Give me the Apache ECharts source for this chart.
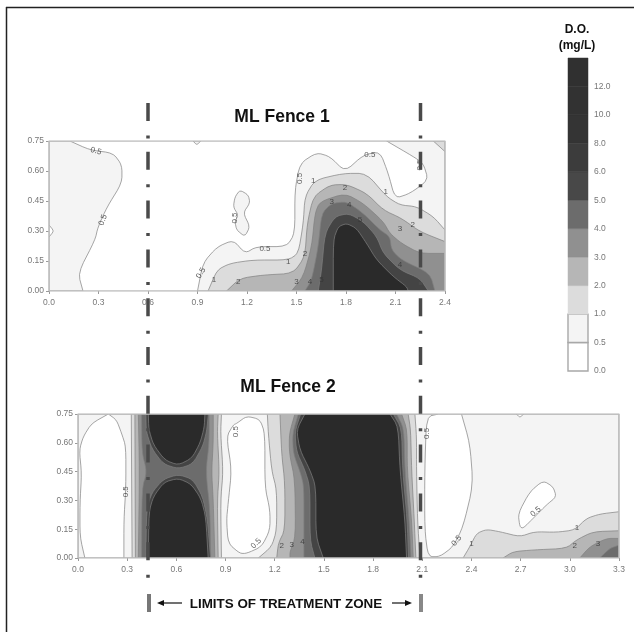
<!DOCTYPE html>
<html><head><meta charset="utf-8">
<style>html,body{margin:0;padding:0;background:#fff}#c{width:634px;height:632px;filter:blur(.55px)}</style>
<script src="https://cdn.jsdelivr.net/npm/echarts@6/dist/echarts.min.js"></script>
</head><body><div id="c"></div>
<script>
// ---------- tick labels / extents ----------
const yTicks = [0.00, 0.15, 0.30, 0.45, 0.60, 0.75];
const fence1XMax = 2.4;
const fence2XMax = 3.3;
const depthMax = 0.75;

// ---------- colour key ----------
const bandLabels = ['0.0','0.5','1.0','2.0','3.0','4.0','5.0','6.0','8.0','10.0','12.0',''];
const bandColors = ['#ffffff','#f4f4f4','#dcdcdc','#b6b6b6','#909090','#6c6c6c','#484848','#3c3c3c','#343434','#323232','#303030'];
const levelColor = {0:'#ffffff',0.5:'#f4f4f4',1:'#dcdcdc',2:'#b6b6b6',3:'#909090',4:'#6c6c6c',5:'#444444',6:'#2a2a2a'};

// ---------- Fence 1 contours, [distance, depth-value] ----------
const f1Left05 = [[0,.75],[.127,.75],[.248,.705],[.388,.69],[.442,.63],[.442,.54],[.352,.42],[.297,.32],[.279,.255],[.176,.09],[.206,0],[0,0]];
const f1LeftPocket = [[0,.33],[.03,.30],[0,.27]];
const f1TopNick = [[.873,.75],[.895,.73],[.92,.75]];
const f1Loop = [[1.127,.47],[1.157,.505],[1.208,.48],[1.218,.44],[1.177,.39],[1.218,.322],[1.187,.272],[1.137,.305],[1.127,.347],[1.147,.38],[1.117,.42]];
const f1L05 = [[.90,0],[.933,.14],[1.018,.22],[1.117,.255],[1.188,.188],[1.258,.222],[1.44,.222],[1.49,.288],[1.49,.505],[1.521,.638],[1.622,.692],[1.703,.672],[1.794,.597],[1.905,.68],[2.006,.697],[2.056,.588],[2.097,.463],[2.188,.488],[2.299,.555],[2.268,.638],[2.208,.672],[2.046,.75],[2.4,.75],[2.4,0]];
const f1Corner = [[2.329,.75],[2.4,.697],[2.4,.75]];
const f1L1 = [[.964,0],[1.018,.105],[1.097,.138],[1.238,.155],[1.45,.155],[1.511,.188],[1.541,.338],[1.551,.472],[1.612,.555],[1.783,.588],[1.925,.588],[2.046,.472],[2.127,.43],[2.228,.422],[2.329,.372],[2.4,.305],[2.4,0]];
const f1L2 = [[1.076,0],[1.157,.063],[1.299,.08],[1.48,.088],[1.551,.172],[1.565,.338],[1.602,.472],[1.703,.53],[1.804,.533],[1.925,.488],[2.026,.405],[2.137,.363],[2.248,.297],[2.4,.247],[2.4,0]];
const f1L3 = [[1.47,0],[1.541,.072],[1.592,.222],[1.612,.388],[1.642,.447],[1.794,.488],[1.905,.438],[2.026,.347],[2.066,.288],[2.137,.238],[2.248,.188],[2.4,.188],[2.4,0]];
const f1L4 = [[1.551,0],[1.592,.055],[1.632,.222],[1.652,.388],[1.713,.438],[1.804,.447],[1.905,.388],[2.006,.305],[2.066,.272],[2.076,.205],[2.137,.155],[2.309,.088],[2.339,0]];
const f1L5 = [[1.632,0],[1.652,.105],[1.672,.288],[1.733,.372],[1.814,.388],[1.905,.347],[1.986,.272],[2.026,.188],[2.127,.105],[2.248,.063],[2.299,0]];
const f1L6 = [[1.723,0],[1.723,.255],[1.753,.322],[1.804,.338],[1.864,.313],[1.925,.238],[1.986,.155],[2.087,.072],[2.167,.022],[2.177,0]];

// ---------- Fence 2 contours ----------
const f2Base = [[0,0],[0,.75],[3.3,.75],[3.3,0]];
const f2PocketA = [[.008,.562],[.032,.632],[.083,.701],[.185,.75],[.235,.719],[.266,.649],[.292,.58],[.292,.371],[.28,.198],[.28,0],[.042,0],[.012,.111],[.012,.285],[.022,.441]];
const f2PocketB = [[.968,.701],[1.029,.739],[1.11,.722],[1.14,.649],[1.14,.371],[1.171,.25],[1.171,.146],[1.12,.059],[1.029,.024],[.987,.024],[.916,.076],[.906,.198],[.916,.285],[.937,.458],[.906,.632],[.947,.693]];
const f2PocketC = [[2.339,.75],[2.39,.597],[2.41,.38],[2.349,.163],[2.288,.059],[2.207,.007],[2.136,.007],[2.115,.146],[2.115,.458],[2.126,.736],[2.2,.75]];
const f2PocketD = [[2.695,.163],[2.685,.232],[2.756,.345],[2.837,.403],[2.898,.371],[2.918,.319],[2.857,.276],[2.786,.215],[2.715,.154]];
const f2TopNick = [[2.674,.75],[2.695,.732],[2.719,.75]];
const f2BlockA1 = [[.325,.75],[.33,0],[.875,0],[.87,.3],[.885,.45],[.87,.65],[.875,.75]];
const f2BlockA2 = [[.347,.75],[.35,0],[.855,0],[.85,.3],[.862,.45],[.85,.65],[.855,.75]];
const f2BlockA3 = [[.368,.75],[.375,.45],[.368,0],[.835,0],[.825,.3],[.815,.45],[.825,.6],[.825,.75]];
const f2BlockA4 = [[.388,.75],[.39,.55],[.42,.45],[.39,.36],[.388,0],[.809,0],[.805,.25],[.78,.45],[.80,.6],[.80,.75]];
const f2BlockA5Top = [[.414,.75],[.416,.66],[.45,.57],[.52,.49],[.611,.465],[.70,.49],[.76,.58],[.785,.66],[.795,.75]];
const f2BlockA5Low = [[.414,0],[.418,.25],[.45,.34],[.52,.41],[.611,.435],[.70,.41],[.76,.32],[.79,.20],[.808,0]];
const f2BlockA6Top = [[.429,.75],[.432,.67],[.46,.59],[.53,.51],[.611,.484],[.695,.52],[.745,.60],[.77,.68],[.774,.75]];
const f2BlockA6Low = [[.429,0],[.433,.24],[.46,.32],[.525,.395],[.611,.415],[.69,.385],[.75,.31],[.78,.21],[.794,0]];
const f2BlockB1 = [[1.155,.75],[1.161,.649],[1.181,.458],[1.212,.354],[1.212,.146],[1.181,.059],[1.10,0],[2.086,0],[2.071,.198],[2.065,.458],[2.065,.632],[2.055,.75]];
const f2BlockB2 = [[1.232,.75],[1.242,.545],[1.262,.389],[1.262,.146],[1.222,.076],[1.212,0],[2.061,0],[2.051,.198],[2.035,.458],[2.029,.667],[2.014,.75]];
const f2BlockB3 = [[1.323,.75],[1.289,.649],[1.289,.545],[1.323,.406],[1.327,.111],[1.293,.033],[1.293,0],[2.045,0],[2.035,.198],[2.008,.458],[2.008,.667],[1.974,.75]];
const f2BlockB4 = [[1.344,.75],[1.309,.649],[1.313,.545],[1.358,.441],[1.378,.371],[1.378,.094],[1.378,0],[2.031,0],[2.02,.198],[1.994,.458],[1.988,.675],[1.943,.75]];
const f2BlockB5 = [[1.358,.75],[1.323,.658],[1.333,.554],[1.384,.458],[1.415,.371],[1.415,.094],[1.445,0],[2.016,0],[2.008,.198],[1.98,.458],[1.974,.675],[1.923,.75]];
const f2BlockB6 = [[1.384,.75],[1.333,.667],[1.354,.562],[1.415,.458],[1.451,.371],[1.451,.111],[1.496,0],[2.004,0],[1.994,.198],[1.964,.458],[1.953,.684],[1.903,.75]];
const f2Right1 = [[2.349,0],[2.39,.059],[2.431,.128],[2.492,.149],[2.573,.137],[2.695,.111],[2.786,.137],[2.918,.134],[3.03,.146],[3.101,.206],[3.183,.229],[3.3,.241],[3.3,0]];
const f2Right2 = [[2.593,0],[2.654,.033],[2.776,.042],[2.979,.05],[3.04,.094],[3.142,.137],[3.3,.142],[3.3,0]];
const f2Right3 = [[3.061,0],[3.122,.059],[3.223,.102],[3.3,.102],[3.3,0]];
const f2Right4 = [[3.183,0],[3.244,.05],[3.3,.067],[3.3,0]];

// ---------- contour labels: distance, depth, text, rotation ----------
const f1Labels = [[.285,.70,'0.5',-15],[.327,.355,'0.5',70],[.921,.09,'0.5',60],[1.0,.055,'1',0],[1.127,.365,'0.5',90],[1.309,.213,'0.5',0],[1.517,.563,'0.5',90],[1.602,.552,'1',0],[1.945,.683,'0.5',0],[2.04,.497,'1',0],[1.794,.518,'2',0],[1.713,.447,'3',0],[1.82,.43,'4',0],[1.884,.358,'5',0],[1.45,.147,'1',0],[1.551,.188,'2',0],[1.147,.047,'2',0],[1.5,.047,'3',0],[1.581,.047,'4',0],[1.652,.058,'5',0],[2.127,.13,'4',0],[2.127,.313,'3',0],[2.204,.33,'2',0],[2.248,.63,'0.5',90]];
const f2Labels = [[.292,.345,'0.5',90],[.964,.658,'0.5',90],[1.086,.076,'0.5',45],[1.242,.062,'2',0],[1.303,.067,'3',0],[1.37,.085,'4',0],[2.126,.649,'0.5',90],[2.309,.09,'0.5',50],[2.4,.073,'1',0],[2.792,.241,'0.5',40],[3.044,.158,'1',0],[3.03,.064,'2',0],[3.172,.073,'3',0]];

const f1Layers = [[.5,f1Left05],[0,f1LeftPocket],[.5,f1TopNick],[.5,f1Loop],[.5,f1L05],[1,f1Corner],[1,f1L1],[2,f1L2],[3,f1L3],[4,f1L4],[5,f1L5],[6,f1L6]];
const f2Layers = [[.5,f2Base],[0,f2PocketA],[0,f2PocketB],[0,f2PocketC],[0,f2PocketD],[0,f2TopNick],
  [1,f2BlockA1],[2,f2BlockA2],[3,f2BlockA3],[4,f2BlockA4],[5,f2BlockA5Top],[5,f2BlockA5Low],[6,f2BlockA6Top],[6,f2BlockA6Low],
  [1,f2BlockB1],[2,f2BlockB2],[3,f2BlockB3],[4,f2BlockB4],[5,f2BlockB5],[6,f2BlockB6],
  [1,f2Right1],[2,f2Right2],[3,f2Right3],[4,f2Right4]];

// rounds contour corners for drawing; points on the plot edge stay sharp
function rounded(ring, xMax) {
  const edge = p => p[0] <= 0 || p[0] >= xMax || p[1] <= 0 || p[1] >= depthMax;
  let r = ring;
  for (let k = 0; k < 2; k++) {
    const out = [];
    r.forEach((p, i) => {
      const q = r[(i + 1) % r.length];
      out.push(edge(p) ? p : [.8*p[0]+.2*q[0], .8*p[1]+.2*q[1]]);
      out.push(edge(q) ? q : [.2*p[0]+.8*q[0], .2*p[1]+.8*q[1]]);
    });
    r = out;
  }
  return r;
}

function contourSeries(idx, layers, xMax) {
  return {
    type: 'custom', xAxisIndex: idx, yAxisIndex: idx, coordinateSystem: 'cartesian2d', clip: true, silent: true, z: 2,
    data: layers.map((l, i) => [i]),
    renderItem(params, api) {
      const l = layers[params.dataIndex];
      return { type: 'polygon', shape: { points: rounded(l[1], xMax).map(p => api.coord(p)) },
        style: { fill: levelColor[l[0]], stroke: '#808080', lineWidth: .7 } };
    }
  };
}
function frameSeries(idx, xMax) {
  return {
    type: 'line', xAxisIndex: idx, yAxisIndex: idx, symbol: 'none', silent: true, z: 4,
    data: [[0,0],[0,depthMax],[xMax,depthMax],[xMax,0],[0,0]],
    lineStyle: { color: '#bdbdbd', width: 1.6 }
  };
}
function labelSeries(idx, labels) {
  return {
    type: 'scatter', xAxisIndex: idx, yAxisIndex: idx, symbolSize: 0, silent: true, z: 5,
    data: labels.map(l => ({ value: [l[0], l[1]],
      label: { show: true, position: 'inside', formatter: l[2], rotate: l[3], fontSize: 8,
        fontFamily: 'Liberation Sans', color: '#333' } }))
  };
}
const axisText = { fontSize: 8.5, color: '#777777', fontFamily: 'Liberation Sans' };
function xAxisFor(idx, xMax) {
  return { type: 'value', gridIndex: idx, min: 0, max: xMax, interval: .3, position: 'bottom', splitLine: { show: false }, z: 3,
    axisLine: { show: false }, axisTick: { show: true, length: 3, lineStyle: { color: '#999' } },
    axisLabel: Object.assign({ show: true, margin: 7, formatter: v => v.toFixed(1), showMinLabel: true, showMaxLabel: true }, axisText) };
}
function yAxisFor(idx) {
  return { type: 'value', gridIndex: idx, min: 0, max: depthMax, interval: yTicks[1], position: 'left', splitLine: { show: false }, z: 3,
    axisLine: { show: false }, axisTick: { show: true, length: 3, inside: false, lineStyle: { color: '#999' } },
    axisLabel: Object.assign({ show: true, margin: 5, formatter: v => v.toFixed(2), showMinLabel: true, showMaxLabel: true }, axisText) };
}
const dashStyle = { stroke: '#4a4a4a', lineWidth: 3.5, lineDash: [18, 14.5, 3, 13.3] };
const chart = echarts.init(document.getElementById('c'), null, { renderer: 'canvas' });
chart.setOption({
  animation: false, backgroundColor: '#ffffff',
  grid: [
    { left: 49, top: 141, width: 396, height: 150 },
    { left: 78, top: 414, width: 541, height: 144 },
    { left: 568, top: 58, width: 20, height: 313 }
  ],
  xAxis: [ xAxisFor(0, fence1XMax), xAxisFor(1, fence2XMax),
    { type: 'value', gridIndex: 2, min: 0, max: 1, show: false } ],
  yAxis: [ yAxisFor(0), yAxisFor(1),
    { type: 'value', gridIndex: 2, min: 0, max: bandLabels.length - 1, interval: 1, position: 'right', splitLine: { show: false },
      axisLine: { show: false }, axisTick: { show: false },
      axisLabel: Object.assign({ show: true, margin: 6, formatter: v => bandLabels[v], showMinLabel: true, showMaxLabel: true }, axisText, { fontSize: 8.5 }) } ],
  series: [
    contourSeries(0, f1Layers, fence1XMax), contourSeries(1, f2Layers, fence2XMax),
    frameSeries(0, fence1XMax), frameSeries(1, fence2XMax),
    labelSeries(0, f1Labels), labelSeries(1, f2Labels),
    { type: 'custom', xAxisIndex: 2, yAxisIndex: 2, silent: true, z: 2,
      data: bandColors.map((c, i) => [i]),
      renderItem(params, api) {
        const i = params.dataIndex, a = api.coord([0, i]), b = api.coord([1, i + 1]);
        return { type: 'rect', shape: { x: a[0], y: b[1], width: b[0] - a[0], height: a[1] - b[1] },
          style: { fill: bandColors[i], stroke: i < 2 ? '#a8a8a8' : bandColors[i], lineWidth: i < 2 ? 1.4 : .5 } };
      } }
  ],
  graphic: { elements: [
    { type: 'line', z: 20, shape: { x1: 6, y1: 7.5, x2: 634, y2: 7.5 }, style: { stroke: '#222', lineWidth: 1.5 } },
    { type: 'line', z: 20, shape: { x1: 6.5, y1: 7, x2: 6.5, y2: 632 }, style: { stroke: '#222', lineWidth: 1.5 } },
    { type: 'line', z: 21, shape: { x1: 148, y1: 103, x2: 148, y2: 580 }, style: dashStyle },
    { type: 'line', z: 21, shape: { x1: 420.5, y1: 103, x2: 420.5, y2: 580 }, style: dashStyle },
    { type: 'line', z: 21, shape: { x1: 149, y1: 594, x2: 149, y2: 612 }, style: { stroke: '#777', lineWidth: 4 } },
    { type: 'line', z: 21, shape: { x1: 421, y1: 594, x2: 421, y2: 612 }, style: { stroke: '#888', lineWidth: 4 } },
    { type: 'line', z: 21, shape: { x1: 160, y1: 603, x2: 182, y2: 603 }, style: { stroke: '#111', lineWidth: 1.2 } },
    { type: 'polygon', z: 21, shape: { points: [[157,603],[164,600],[164,606]] }, style: { fill: '#111' } },
    { type: 'line', z: 21, shape: { x1: 392, y1: 603, x2: 409, y2: 603 }, style: { stroke: '#111', lineWidth: 1.2 } },
    { type: 'polygon', z: 21, shape: { points: [[412,603],[405,600],[405,606]] }, style: { fill: '#111' } },
    { type: 'text', z: 22, x: 282, y: 117, style: { text: 'ML Fence 1', fill: '#111', font: 'bold 17.5px "Liberation Sans"', textAlign: 'center', textVerticalAlign: 'middle' } },
    { type: 'text', z: 22, x: 288, y: 387, style: { text: 'ML Fence 2', fill: '#111', font: 'bold 17.5px "Liberation Sans"', textAlign: 'center', textVerticalAlign: 'middle' } },
    { type: 'text', z: 22, x: 577, y: 30, style: { text: 'D.O.', fill: '#111', font: 'bold 12px "Liberation Sans"', textAlign: 'center', textVerticalAlign: 'middle' } },
    { type: 'text', z: 22, x: 577, y: 46, style: { text: '(mg/L)', fill: '#111', font: 'bold 12px "Liberation Sans"', textAlign: 'center', textVerticalAlign: 'middle' } },
    { type: 'text', z: 22, x: 286, y: 604, style: { text: 'LIMITS OF TREATMENT ZONE', fill: '#111', font: 'bold 13.4px "Liberation Sans"', textAlign: 'center', textVerticalAlign: 'middle' } }
  ] }
});
</script></body></html>
